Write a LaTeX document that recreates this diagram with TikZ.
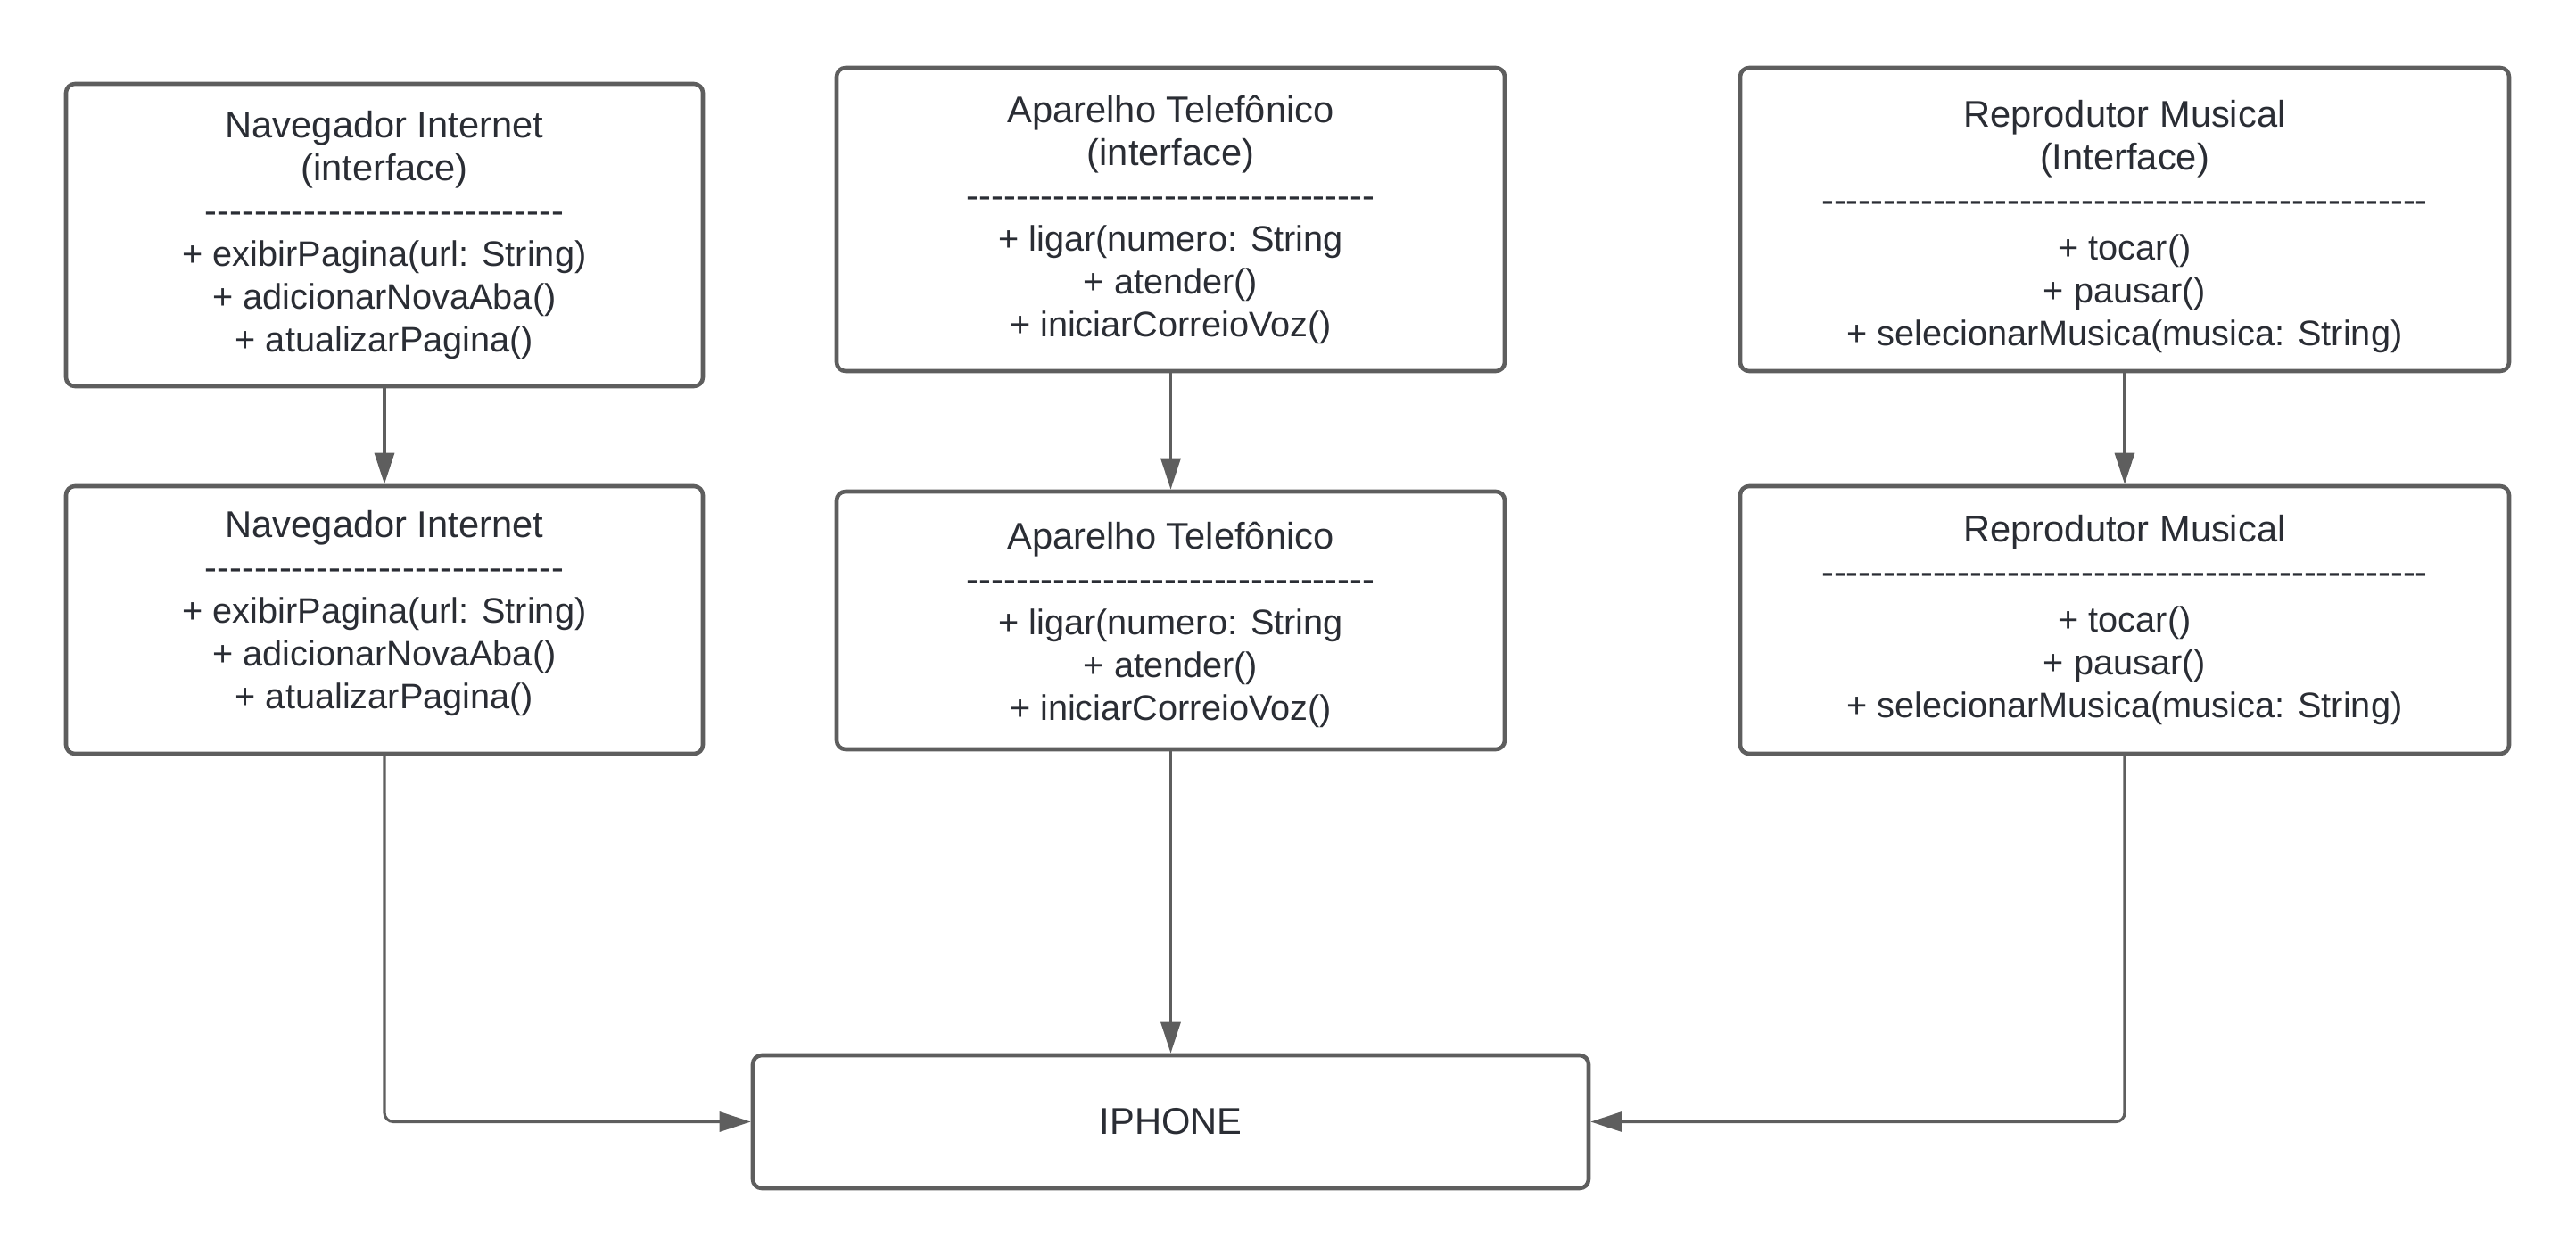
\documentclass[tikz,border=0pt]{standalone}
\usepackage{fontspec}
\setmainfont{Liberation Sans}
\usepackage{tikz}
\usetikzlibrary{shapes, arrows.meta, positioning, calc}

\definecolor{linegray}{HTML}{5E5E5E}
\definecolor{textgray}{HTML}{2A2D34}
\newcommand{\titlesize}{\fontsize{11.85}{13.66}\selectfont}
\newcommand{\dashline}[1]{{\titlesize\foreach \k in {1,...,#1}{-\kern0pt}}}

\begin{document}
\begin{tikzpicture}[>={Triangle[length=3.5mm, width=2.2mm]},
    classbox/.style={rectangle, draw=linegray, line width=1.3pt, rounded corners=1mm, align=center, text=textgray,
        font=\fontsize{11.3}{13.66}\selectfont, inner sep=0pt},
    link/.style={->, draw=linegray, line width=0.9pt, rounded corners=1mm}]

    \useasboundingbox (0,0) rectangle (28.88,-14.08);

    % Interfaces
    \node (nav_iface) [classbox, minimum width=7.14cm, minimum height=3.39cm] at (4.31,-2.635)
        {{\titlesize Navegador Internet}\\{\titlesize (interface)}\\\dashline{29}\\+ exibirPagina(url: String)\\+ adicionarNovaAba()\\+ atualizarPagina()};
    \node (tel_iface) [classbox, minimum width=7.49cm, minimum height=3.40cm] at (13.125,-2.46)
        {{\titlesize Aparelho Telefônico}\\{\titlesize (interface)}\\\dashline{33}\\+ ligar(numero: String\\+ atender()\\+ iniciarCorreioVoz()};
    \node (mus_iface) [classbox, minimum width=8.62cm, minimum height=3.40cm] at (23.82,-2.46)
        {\rule{0pt}{13pt}{\titlesize Reprodutor Musical}\\{\titlesize (Interface)}\\\dashline{49}\\[0.05cm]+ tocar()\\+ pausar()\\+ selecionarMusica(musica: String)};

    % Implementations
    \node (nav_impl) [classbox, minimum width=7.14cm, minimum height=3.00cm] at (4.31,-6.95)
        {{\titlesize Navegador Internet}\\\dashline{29}\\+ exibirPagina(url: String)\\+ adicionarNovaAba()\\+ atualizarPagina()\rule[-6.4pt]{0pt}{6.4pt}};
    \node (tel_impl) [classbox, minimum width=7.49cm, minimum height=2.89cm] at (13.125,-6.955)
        {\rule{0pt}{11.7pt}{\titlesize Aparelho Telefônico}\\\dashline{33}\\+ ligar(numero: String\\+ atender()\\+ iniciarCorreioVoz()};
    \node (mus_impl) [classbox, minimum width=8.62cm, minimum height=3.00cm] at (23.82,-6.95)
        {{\titlesize Reprodutor Musical}\\\dashline{49}\\[0.05cm]+ tocar()\\+ pausar()\\+ selecionarMusica(musica: String)};

    \node (iphone) [classbox, minimum width=9.37cm, minimum height=1.49cm, font=\titlesize] at (13.125,-12.575) {IPHONE};

    % Interface to class
    \draw [link] (nav_iface) -- (nav_impl);
    \draw [link] (tel_iface) -- (tel_impl);
    \draw [link] (mus_iface) -- (mus_impl);

    % Classes into the phone
    \draw [link] (nav_impl.south) |- (iphone.west);
    \draw [link] (tel_impl) -- (iphone);
    \draw [link] (mus_impl.south) |- (iphone.east);

\end{tikzpicture}
\end{document}
